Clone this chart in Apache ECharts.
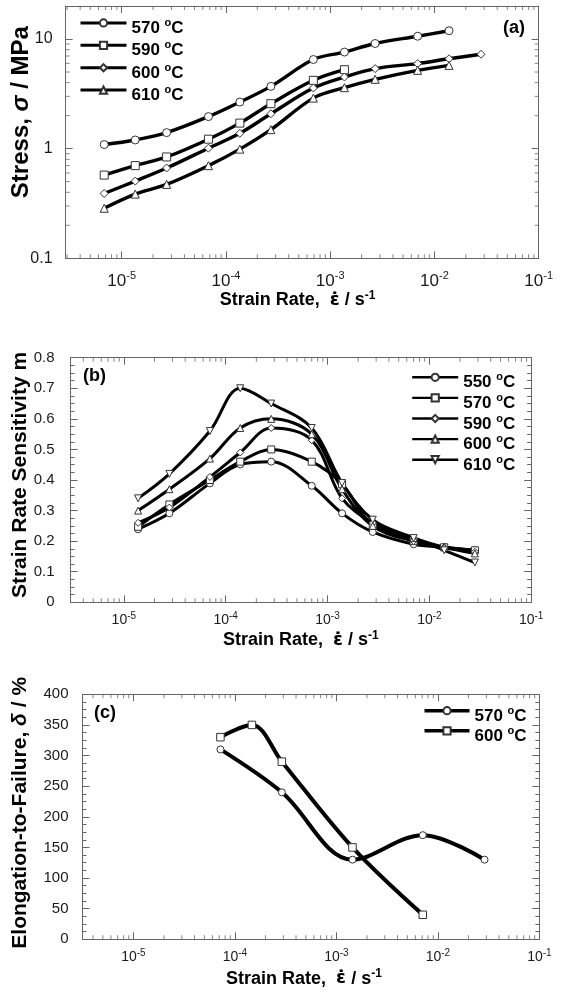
<!DOCTYPE html>
<html><head><meta charset="utf-8">
<script src="https://cdn.jsdelivr.net/npm/echarts@6/dist/echarts.min.js"></script>
<style>html,body{margin:0;padding:0;background:#fff}#c{width:561px;height:992px}</style>
</head><body><div id="c"></div>
<script>
// ---------- Panel (a): stress vs strain rate ----------
const rateA = [6.8e-6, 1.35e-5, 2.7e-5, 6.8e-5, 1.36e-4, 2.7e-4, 6.9e-4, 1.37e-3, 2.7e-3, 6.9e-3, 1.38e-2, 2.8e-2];
const stressA570 = [1.09, 1.2, 1.4, 1.96, 2.66, 3.7, 6.5, 7.6, 9.1, 10.6, 11.9];
const stressA590 = [0.574, 0.70, 0.84, 1.22, 1.71, 2.57, 4.2, 5.25];
const stressA600 = [0.39, 0.506, 0.666, 1.01, 1.38, 2.08, 3.57, 4.5, 5.37, 5.97, 6.6, 7.26];
const stressA610 = [0.286, 0.385, 0.472, 0.70, 0.99, 1.49, 2.89, 3.6, 4.29, 5.18, 5.75];
const tempsA = ['570', '590', '600', '610'];

// ---------- Panel (b): strain rate sensitivity ----------
const rateB = [1.38e-5, 2.8e-5, 7e-5, 1.39e-4, 2.8e-4, 7e-4, 1.39e-3, 2.78e-3, 7e-3, 1.4e-2, 2.8e-2];
const mB550 = [0.239, 0.291, 0.389, 0.451, 0.46, 0.381, 0.291, 0.23, 0.19, 0.18, 0.17];
const mB570 = [0.247, 0.32, 0.40, 0.46, 0.50, 0.46, 0.386, 0.25, 0.20, 0.18, 0.17];
const mB590 = [0.26, 0.31, 0.41, 0.49, 0.57, 0.53, 0.34, 0.26, 0.20, 0.18, 0.165];
const mB600 = [0.30, 0.37, 0.47, 0.57, 0.60, 0.55, 0.37, 0.25, 0.21, 0.18, 0.16];
const mB610 = [0.34, 0.42, 0.56, 0.70, 0.65, 0.57, 0.39, 0.27, 0.21, 0.17, 0.13];
const tempsB = ['550', '570', '590', '600', '610'];

// ---------- Panel (c): elongation to failure ----------
const rateC570 = [7.2e-5, 2.9e-4, 1.44e-3, 7.1e-3, 2.88e-2];
const elongC570 = [310, 240, 130, 170, 130];
const rateC600 = [7.2e-5, 1.47e-4, 2.9e-4, 1.44e-3, 7.1e-3];
const elongC600 = [330, 350, 290, 150, 40];
const tempsC = ['570', '600'];

// axis ranges
const xMinA = 2.9e-6, xMinB = 3.0e-6, xMinC = 3.15e-6, xMax = 0.1;
const yRangeA = [0.1, 20], yRangeB = [0, 0.8], yRangeC = [0, 400];

const FONT = '"Liberation Sans", Arial, Helvetica, sans-serif';
const AX = '#666';
const TXT = '#1a1a1a';

function powFmt(v) {
  const l = Math.log10(v), e = Math.round(l);
  if (Math.abs(l - e) > 1e-6) return '';
  return '{b|10}{s|' + e + '}';
}
function decFmt(v) {
  const l = Math.log10(v), e = Math.round(l);
  if (Math.abs(l - e) > 1e-6) return '';
  return String(+Math.pow(10, e).toPrecision(3));
}
// logarithmic minor tick positions (2..9 of each decade) inside (lo, hi)
function logMinor(lo, hi) {
  const out = [];
  for (let n = -7; n <= 2; n++) {
    for (let k = 2; k <= 9; k++) {
      const v = +(k * Math.pow(10, n)).toPrecision(6);
      if (v > lo * 1.0001 && v < hi * 0.9999) out.push(v);
    }
  }
  return out;
}

function baseAxis(extra) {
  return Object.assign({
    axisLine: {show: true, onZero: false, lineStyle: {color: AX, width: 1}},
    axisTick: {show: true, inside: true, length: 7, lineStyle: {color: AX, width: 1}},
    splitLine: {show: false}, minorSplitLine: {show: false},
    axisLabel: {show: false},
    nameMoveOverlap: false
  }, extra);
}

function xLog(g, min, pos, lab) {
  const ax = baseAxis({type: 'log', logBase: 10, gridIndex: g, position: pos, min: min, max: xMax});
  if (lab) {
    ax.axisLabel = {show: true, margin: lab.margin, formatter: powFmt, color: TXT,
      rich: {
        b: {fontSize: lab.fs, lineHeight: lab.lh, fontFamily: FONT, color: TXT},
        s: {fontSize: lab.ss, lineHeight: Math.round(lab.lh / 2), verticalAlign: 'top', fontFamily: FONT, color: TXT}
      }};
    ax.name = '{t|Strain Rate,  }{e|\u03b5\u0307}{t| / s}{s|-1}';
    ax.nameLocation = 'middle';
    ax.nameGap = lab.nameGap;
    ax.nameTextStyle = {padding: [0, lab.shift || 0, 0, 0], rich: {
      t: {fontSize: 18, fontWeight: 'bold', fontFamily: FONT, lineHeight: 22, color: '#000'},
      e: {fontSize: 18, fontWeight: 'bold', fontFamily: '"DejaVu Sans"', lineHeight: 22, color: '#000'},
      s: {fontSize: 12, fontWeight: 'bold', fontFamily: FONT, lineHeight: 11, verticalAlign: 'top', color: '#000'}
    }};
  }
  return ax;
}

const yNameRich = (fs) => ({
  t: {fontSize: fs, fontWeight: 'bold', fontFamily: FONT, lineHeight: fs, color: '#000'},
  i: {fontSize: fs, fontWeight: 'bold', fontStyle: 'italic', fontFamily: FONT, lineHeight: fs, color: '#000'}
});

const yAxes = [
  // (a)
  baseAxis({type: 'log', logBase: 10, gridIndex: 0, position: 'left', min: yRangeA[0], max: yRangeA[1],
    axisLabel: {show: true, fontSize: 16, fontFamily: FONT, color: TXT, margin: 13, formatter: decFmt},
    name: '{t|Stress, }{i|\u03c3}{t| / MPa}', nameLocation: 'middle', nameRotate: 90, nameGap: 32,
    nameTextStyle: {padding: [0, 0, 0, 40], rich: yNameRich(24)}}),
  baseAxis({type: 'log', logBase: 10, gridIndex: 0, position: 'right', min: yRangeA[0], max: yRangeA[1]}),
  // (b)
  baseAxis({type: 'value', gridIndex: 1, position: 'left', min: yRangeB[0], max: yRangeB[1], interval: 0.1,
    minorTick: {show: true, splitNumber: 4, length: 4, lineStyle: {color: AX}},
    axisLabel: {show: true, fontSize: 15, fontFamily: FONT, color: TXT, margin: 16},
    name: '{t|Strain Rate Sensitivity m}', nameLocation: 'middle', nameRotate: 90, nameGap: 40,
    nameTextStyle: {padding: [0, 0, 0, 10], rich: yNameRich(21)}}),
  baseAxis({type: 'value', gridIndex: 1, position: 'right', min: yRangeB[0], max: yRangeB[1], interval: 0.1,
    minorTick: {show: true, splitNumber: 4, length: 4, lineStyle: {color: AX}}}),
  // (c)
  baseAxis({type: 'value', gridIndex: 2, position: 'left', min: yRangeC[0], max: yRangeC[1], interval: 50,
    minorTick: {show: true, splitNumber: 4, length: 4, lineStyle: {color: AX}},
    axisLabel: {show: true, fontSize: 15, fontFamily: FONT, color: TXT, margin: 14},
    name: '{t|Elongation-to-Failure, }{i|\u03b4}{t| / %}', nameLocation: 'middle', nameRotate: 90, nameGap: 52,
    nameTextStyle: {padding: [0, 0, 0, 8], rich: yNameRich(21)}}),
  baseAxis({type: 'value', gridIndex: 2, position: 'right', min: yRangeC[0], max: yRangeC[1], interval: 50,
    minorTick: {show: true, splitNumber: 4, length: 4, lineStyle: {color: AX}}})
];

const xAxes = [
  xLog(0, xMinA, 'bottom', {margin: 12, fs: 17, ss: 11, lh: 22, nameGap: 31, shift: 9}),
  xLog(0, xMinA, 'top', null),
  xLog(1, xMinB, 'bottom', {margin: 9, fs: 14, ss: 10, lh: 18, nameGap: 27}),
  xLog(1, xMinB, 'top', null),
  xLog(2, xMinC, 'bottom', {margin: 8.5, fs: 14, ss: 10, lh: 18, nameGap: 28.5, shift: 14}),
  xLog(2, xMinC, 'top', null)
];

const INV_TRI = 'path://M0,0L10,0L5,9Z';

function ser(name, xi, yi, xs, ys, symbol, size, lw) {
  return {
    name: name, type: 'line', xAxisIndex: xi, yAxisIndex: yi,
    data: ys.map((y, i) => [xs[i], y]),
    smooth: 0.35, symbol: symbol, symbolSize: size, showSymbol: true,
    lineStyle: {color: '#000', width: lw},
    itemStyle: {color: '#fff', borderColor: '#333', borderWidth: 1},
    emphasis: {disabled: true}, silent: true, clip: false, z: 3
  };
}
// minor tick marks of the log axes, placed through the axes' own scales
function tickSer(xi, yi, pts, size, offset) {
  return {type: 'scatter', xAxisIndex: xi, yAxisIndex: yi, data: pts, symbol: 'rect',
    symbolSize: size, symbolOffset: offset, itemStyle: {color: AX}, silent: true, clip: false, z: 1,
    emphasis: {disabled: true}};
}
function xMinorTicks(xb, xt, yi, lo, yLo, yHi) {
  const v = logMinor(lo, xMax);
  return [
    tickSer(xb, yi, v.map(x => [x, yLo]), [1, 4], [0, -2]),
    tickSer(xt, yi, v.map(x => [x, yHi]), [1, 4], [0, 2])
  ];
}
const yMinorA = logMinor(yRangeA[0], yRangeA[1]);

const series = [
  ...xMinorTicks(0, 1, 0, xMinA, yRangeA[0], yRangeA[1]),
  tickSer(0, 0, yMinorA.map(y => [xMinA, y]), [4, 1], [2, 0]),
  tickSer(0, 0, yMinorA.map(y => [xMax, y]), [4, 1], [-2, 0]),
  ...xMinorTicks(2, 3, 2, xMinB, yRangeB[0], yRangeB[1]),
  ...xMinorTicks(4, 5, 4, xMinC, yRangeC[0], yRangeC[1]),
  ser('a570', 0, 0, rateA, stressA570, 'circle', 8, 3.4),
  ser('a590', 0, 0, rateA, stressA590, 'rect', 8, 3.4),
  ser('a600', 0, 0, rateA, stressA600, 'diamond', 8, 3.4),
  ser('a610', 0, 0, rateA, stressA610, 'triangle', 8, 3.4),
  ser('b550', 2, 2, rateB, mB550, 'circle', 7, 3),
  ser('b570', 2, 2, rateB, mB570, 'rect', 7, 3),
  ser('b590', 2, 2, rateB, mB590, 'diamond', 7, 3),
  ser('b600', 2, 2, rateB, mB600, 'triangle', 7, 3),
  ser('b610', 2, 2, rateB, mB610, INV_TRI, 7, 3),
  ser('c570', 4, 4, rateC570, elongC570, 'circle', 7, 4),
  ser('c600', 4, 4, rateC600, elongC600, 'rect', 7.5, 4)
];

function legendFmt(name) { return '{t|' + name.slice(1) + ' }{o|o}{t|C}'; }
const legRich = {
  t: {fontSize: 17, fontWeight: 'bold', fontFamily: FONT, lineHeight: 22, color: '#000'},
  o: {fontSize: 11, fontWeight: 'bold', fontFamily: FONT, lineHeight: 12, verticalAlign: 'top', color: '#000'}
};
function legend(names, left, top, gap, w, lw) {
  return {
    data: names, orient: 'vertical', left: left, top: top, padding: 0, itemGap: gap,
    itemWidth: w, itemHeight: 9, selectedMode: false, formatter: legendFmt,
    lineStyle: {width: lw, color: '#000'},
    textStyle: {padding: [11, 0, 0, 0], rich: legRich}
  };
}

const option = {
  animation: false,
  backgroundColor: '#fff',
  grid: [
    {left: 65.6, top: 6, width: 473.1, height: 252.3, outerBoundsMode: 'none', containLabel: false},
    {left: 70.6, top: 357.7, width: 460.6, height: 244.6, outerBoundsMode: 'none', containLabel: false},
    {left: 82.5, top: 694.3, width: 456.9, height: 245, outerBoundsMode: 'none', containLabel: false}
  ],
  xAxis: xAxes,
  yAxis: yAxes,
  legend: [
    legend(tempsA.map(t => 'a' + t), 79, 17.4, 2.9, 46, 3),
    legend(tempsB.map(t => 'b' + t), 411, 371.8, 1.1, 46, 2.4),
    legend(tempsC.map(t => 'c' + t), 422.7, 705.2, 0.6, 45, 3.6)
  ],
  graphic: [
    {type: 'text', left: 503, top: 19, style: {text: '(a)', font: 'bold 18px ' + FONT, fill: '#000'}},
    {type: 'text', left: 83, top: 367, style: {text: '(b)', font: 'bold 18px ' + FONT, fill: '#000'}},
    {type: 'text', left: 94, top: 704, style: {text: '(c)', font: 'bold 18px ' + FONT, fill: '#000'}}
  ],
  series: series
};

const chart = echarts.init(document.getElementById('c'), null, {renderer: 'canvas'});
chart.setOption(option);
</script>
</body></html>
